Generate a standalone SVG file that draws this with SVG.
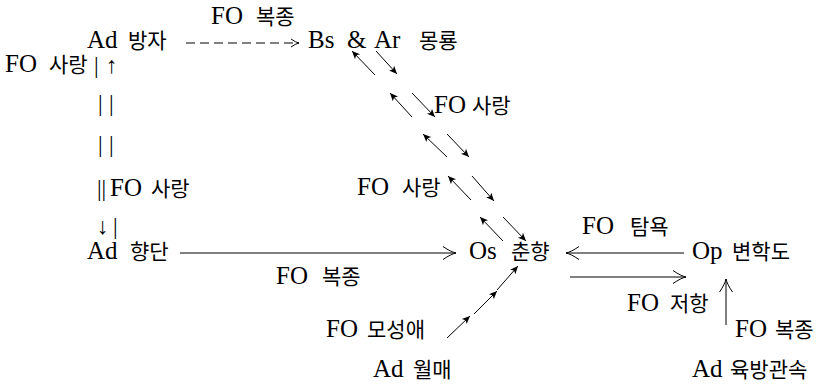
<svg xmlns="http://www.w3.org/2000/svg" width="827" height="385" viewBox="0 0 827 385">
<style>
.t{font-family:'Liberation Serif','DejaVu Serif','Noto Sans CJK KR',serif;font-size:25px;fill:#000}
.k{font-family:'Noto Sans CJK KR',sans-serif;font-size:21px}
.b{font-size:23px}
.c path{stroke:#000;stroke-width:1;fill:none}
.open{marker-end:url(#open)}
.fill{marker-end:url(#fill)}
</style>
<defs>
<marker id="open" markerUnits="userSpaceOnUse" orient="auto" refX="0" refY="0" overflow="visible">
<path d="M-13,-6.5 Q-5,-1 0,0 Q-5,1 -13,6.5" fill="none" stroke="#000" stroke-width="1"/>
</marker>
<marker id="small" markerUnits="userSpaceOnUse" orient="auto" refX="0" refY="0" overflow="visible">
<path d="M-8,-4 Q-3,-0.5 0,0 Q-3,0.5 -8,4" fill="none" stroke="#000" stroke-width="1"/>
</marker>
<marker id="fill" markerUnits="userSpaceOnUse" orient="auto" refX="0" refY="0" overflow="visible">
<path d="M0,0 L-8,-3.5 L-6,0 L-8,3.5 Z" fill="#000" stroke="none"/>
</marker>
</defs>
<rect width="827" height="385" fill="#fff"/>

<g id="n-adbangja"><text class="t" x="87" y="48">Ad <tspan class="k" x="128">방자</tspan></text></g>
<g id="n-bsar"><text class="t" y="48"><tspan x="308">Bs </tspan><tspan x="347">&amp; </tspan><tspan x="374">Ar </tspan><tspan class="k" x="419">몽룡</tspan></text></g>
<g id="n-adhyangdan"><text class="t" x="87" y="259">Ad <tspan class="k" x="130">향단</tspan></text></g>
<g id="n-oschunhyang"><text class="t" x="469" y="259">Os <tspan class="k" x="511">춘향</tspan></text></g>
<g id="n-opbyeon"><text class="t" x="692" y="259">Op <tspan class="k" x="732">변학도</tspan></text></g>
<g id="n-adwolmae"><text class="t" x="373" y="377">Ad <tspan class="k" x="413">월매</tspan></text></g>
<g id="n-adyukbang"><text class="t" x="692" y="377">Ad <tspan class="k" x="730">육방관속</tspan></text></g>

<g id="labels">
<text class="t" x="211" y="24">FO <tspan class="k" x="256">복종</tspan></text>
<text class="t" x="5" y="72">FO <tspan class="k" x="49">사랑</tspan><tspan class="b" x="94" y="73">|</tspan><tspan class="b" x="106" y="73">↑</tspan></text>
<text class="t b" y="111"><tspan x="98">| </tspan><tspan x="109">|</tspan></text>
<text class="t b" y="152"><tspan x="98">| </tspan><tspan x="109">|</tspan></text>
<text class="t" x="97" y="196"><tspan class="b">||</tspan><tspan x="110">FO </tspan><tspan class="k" x="151">사랑</tspan></text>
<text class="t b" y="234"><tspan x="97">↓</tspan><tspan x="113">|</tspan></text>
<text class="t" x="434" y="113">FO <tspan class="k" x="472">사랑</tspan></text>
<text class="t" x="357" y="195">FO <tspan class="k" x="402">사랑</tspan></text>
<text class="t" x="276" y="284">FO <tspan class="k" x="322">복종</tspan></text>
<text class="t" x="582" y="234">FO <tspan class="k" x="630">탐욕</tspan></text>
<text class="t" x="627" y="311">FO <tspan class="k" x="670">저항</tspan></text>
<text class="t" x="735" y="337">FO <tspan class="k" x="775">복종</tspan></text>
<text class="t" x="326" y="337">FO <tspan class="k" x="367">모성애</tspan></text>
</g>

<g id="connectors" class="c">
<path d="M186,43 H299" stroke-dasharray="9,5" marker-end="url(#small)"/>
<path class="open" d="M180,253 H456"/>
<path class="open" d="M684,253 H566"/>
<path class="open" d="M570,277 H686"/>
<path class="open" d="M726,325 V279"/>

<path class="fill" d="M375,75 L352,51"/>
<path class="fill" d="M376,51 L397,74"/>
<path class="fill" d="M412,117 L390,93"/>
<path class="fill" d="M412,93 L435,117"/>
<path class="fill" d="M447,157 L423,134"/>
<path class="fill" d="M447,134 L469,157"/>
<path class="fill" d="M471,200 L448,176"/>
<path class="fill" d="M472,176 L494,201"/>
<path class="fill" d="M503,241 L480,217"/>
<path class="fill" d="M503,217 L526,241"/>

<path class="fill" d="M447,338 L470,316"/>
<path class="fill" d="M474,314 L497,291"/>
<path class="fill" d="M497,290 L518,266"/>
</g>
</svg>
